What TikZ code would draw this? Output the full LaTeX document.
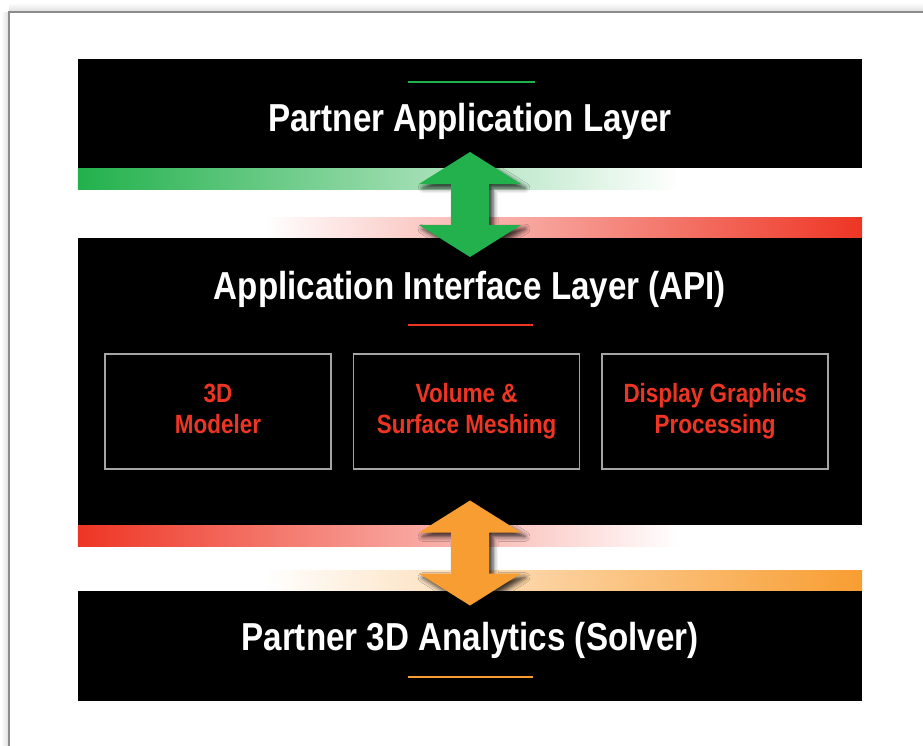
\documentclass[tikz,border=0pt]{standalone}
\usepackage{fontspec}
\setmainfont{Liberation Sans}[FakeStretch=0.85]
\usetikzlibrary{calc,positioning,shadows.blur}

\definecolor{kgreen}{RGB}{34,177,76}
\definecolor{kred}{RGB}{238,53,36}
\definecolor{korange}{RGB}{248,157,49}
\definecolor{boxgray}{RGB}{165,165,165}
\definecolor{framegray}{RGB}{140,140,140}

\tikzset{
    layer/.style={fill=black,minimum width=784pt,inner sep=0pt},
    layertitle/.style={text=white,anchor=base,inner sep=0pt,font=\bfseries\fontsize{39}{39}\selectfont},
    module/.style={draw=boxgray,line width=1.6pt,fill=black,minimum width=226pt,minimum height=115pt,
        align=center,text=kred,font=\bfseries\fontsize{26.4}{31}\selectfont},
    link/.style={blur shadow={shadow xshift=4pt,shadow yshift=-4pt,shadow blur radius=5pt,shadow opacity=80}},
}

\begin{document}
\begin{tikzpicture}[x=1pt,y=-1pt]
        \useasboundingbox (0,0) rectangle (923,745);

        %page frame
        \shade[left color=white,right color=black!12] (1,12) rectangle (8,745);
        \shade[top color=white,bottom color=black!12] (9,3) rectangle (923,11);
        \draw[framegray,line width=2pt] (9,760) |- (940,12);

        %layers
        \node[layer,minimum height=109pt] (partner) at (470,113.5) {};
        \node[layer,minimum height=287pt] (api) at (470,381.5) {};
        \node[layer,minimum height=110pt] (solver) at (470,646) {};

        %titles
        \node[layertitle] (partnertitle) at (470,131) {Partner Application Layer};
        \node[layertitle] (apititle) at (470,299) {Application Interface Layer (API)};
        \node[layertitle] (solvertitle) at (470,650) {Partner 3D Analytics (Solver)};

        %rules
        \draw[kgreen,line width=2pt] (408,82) -- (535,82);
        \draw[kred,line width=2pt] (408,325) -- (533,325);
        \draw[korange,line width=2pt] (408,677) -- (533,677);

        %modules
        \node[module] (modeler) at (218,411.5) {3D\\Modeler\rule[-6pt]{0pt}{1pt}};
        \node[module,right=21pt of modeler] (meshing) {Volume \&\\Surface Meshing\rule[-6pt]{0pt}{1pt}};
        \node[module,right=21pt of meshing] (graphics) {Display Graphics\\Processing\rule[-6pt]{0pt}{1pt}};

        %bars
        \shade[left color=kgreen,right color=white] (partner.south west) rectangle (680,189);
        \shade[left color=white,right color=kred] (263,217) rectangle (api.north east);
        \shade[left color=kred,right color=white] (api.south west) rectangle (680,546);
        \shade[left color=white,right color=korange] (263,570) rectangle (solver.north east);

        %links
        \coordinate (upperlink) at (470,204.5);
        \coordinate (lowerlink) at (470,553);
        \fill[kgreen,link] (upperlink) ++(0,-52.5) -- ++(51,32) -- ++(-32,0) -- ++(0,41) -- ++(32,0)
            -- ++(-51,32) -- ++(-51,-32) -- ++(32,0) -- ++(0,-41) -- ++(-32,0) -- cycle;
        \fill[korange,link] (lowerlink) ++(0,-52.5) -- ++(51,32) -- ++(-32,0) -- ++(0,41) -- ++(32,0)
            -- ++(-51,32) -- ++(-51,-32) -- ++(32,0) -- ++(0,-41) -- ++(-32,0) -- cycle;
\end{tikzpicture}
\end{document}
